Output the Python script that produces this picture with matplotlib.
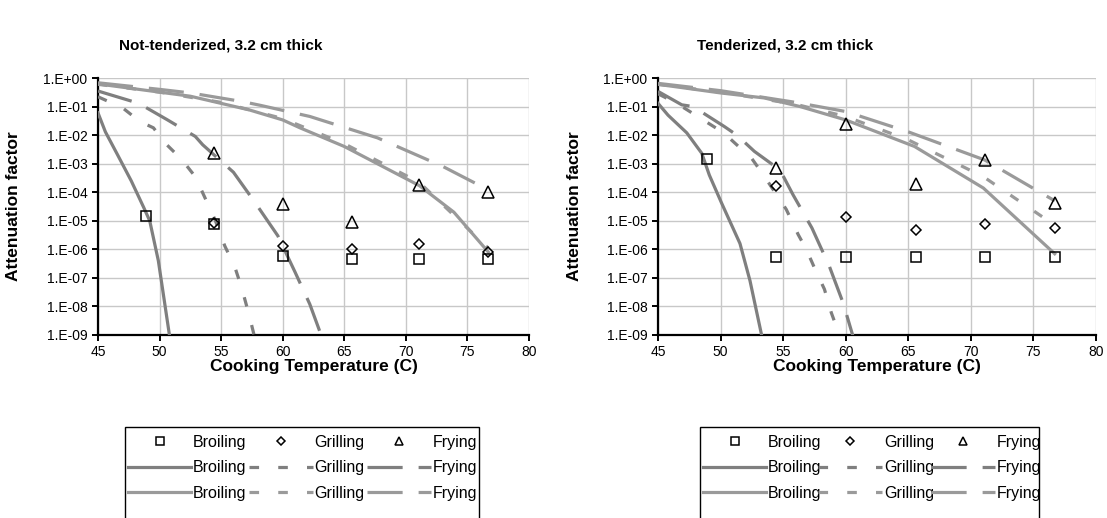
import numpy as np
import matplotlib
matplotlib.use('Agg')
import matplotlib.pyplot as plt
from matplotlib.patches import Rectangle

plt.rcParams['font.family'] = ['Liberation Sans', 'DejaVu Sans']

# temperatures of the measured points (120..170 F)
obs_t = [48.9, 54.4, 60.0, 65.6, 71.1, 76.7]

# ---- Not-tenderized, measured ----
nt_broil_obs = [1.5e-5, 8e-6, 6e-7, 4.7e-7, 4.7e-7, 4.7e-7]
nt_grill_obs = [np.nan, 8.5e-6, 1.3e-6, 1.0e-6, 1.5e-6, 8.3e-7]
nt_fry_obs = [np.nan, 2.3e-3, 3.8e-5, 9.3e-6, 1.8e-4, 1.05e-4]

# ---- Not-tenderized, model curves ----
nt_broil_dark_t = [45, 45.6, 46.6, 47.7, 48.7, 49.2, 49.9, 50.8, 51.0]
nt_broil_dark_v = [6e-2, 1.3e-2, 2e-3, 2.5e-4, 3e-5, 1e-5, 4e-7, 1e-9, 2e-10]
nt_grill_dark_t = [45, 47, 48.4, 49.5, 50.5, 51.8, 52.9, 54.5, 55.3, 56.1, 56.7, 57.3, 57.8]
nt_grill_dark_v = [0.22, 0.09, 3e-2, 1.8e-2, 5e-3, 1.4e-3, 3.5e-4, 1.1e-5, 1.3e-6, 2.5e-7, 4e-8, 4.5e-9, 6e-10]
nt_fry_dark_t = [45, 48.3, 50.6, 52.9, 53.5, 56.0, 57.7, 59.6, 61.0, 62.2, 63.2]
nt_fry_dark_v = [0.35, 0.13, 3.5e-2, 9e-3, 4.6e-3, 5e-4, 4.7e-5, 3e-6, 1.6e-7, 1.2e-8, 8e-10]

nt_broil_light_t = [45, 50, 52.5, 57.3, 60, 61.4, 65, 71.1, 73.9, 76.7]
nt_broil_light_v = [0.62, 0.32, 0.23, 7.6e-2, 3.4e-2, 1.8e-2, 4e-3, 1.7e-4, 2e-5, 8e-7]
nt_grill_light_t = [45, 50, 55, 60, 65, 71.1, 76.7]
nt_grill_light_v = [0.6, 0.32, 0.14, 3.8e-2, 5e-3, 2.2e-4, 1.1e-6]
nt_fry_light_t = [45, 50, 52.5, 56.7, 58.2, 62.2, 67.7, 73, 76.7]
nt_fry_light_v = [0.68, 0.4, 0.3, 0.15, 0.11, 4.5e-2, 8e-3, 8e-4, 1.2e-4]

# ---- Tenderized, measured ----
t_broil_obs = [1.4e-3, 5.2e-7, 5.2e-7, 5.2e-7, 5.2e-7, 5.2e-7]
t_grill_obs = [np.nan, 1.6e-4, 1.4e-5, 4.8e-6, 8e-6, 5.5e-6]
t_fry_obs = [np.nan, 7.2e-4, 2.5e-2, 1.95e-4, 1.3e-3, 4.3e-5]

# ---- Tenderized, model curves ----
t_broil_dark_t = [45, 45.8, 47.3, 48.5, 49.1, 50.1, 51.55, 52.35, 53.3, 53.6]
t_broil_dark_v = [0.13, 5e-2, 1.2e-2, 2.3e-3, 4e-4, 4e-5, 1.6e-6, 8e-8, 9e-10, 3e-10]
t_grill_dark_t = [45, 46.5, 48, 50.25, 52.5, 53.5, 55.25, 56.2, 56.85, 57.6, 58.3, 58.85, 59.5, 59.7]
t_grill_dark_v = [0.28, 0.13, 5e-2, 1.2e-2, 1.5e-3, 3.6e-4, 2.5e-5, 3.3e-6, 1e-6, 1.8e-7, 4e-8, 6e-9, 1e-9, 5e-10]
t_fry_dark_t = [45, 46.9, 47.8, 50.3, 51.3, 52.7, 54.75, 55.8, 57.3, 58.7, 59.8, 60.7]
t_fry_dark_v = [0.34, 0.115, 0.1, 2e-2, 1e-2, 2.7e-3, 6e-4, 8e-5, 5.6e-6, 2.5e-7, 1.3e-8, 6e-10]

t_broil_light_t = [45, 50, 53.5, 56.35, 60, 65.5, 71, 76.7]
t_broil_light_v = [0.6, 0.3, 0.2, 0.1, 3.4e-2, 4e-3, 1.4e-4, 7e-7]
t_grill_light_t = [45, 50, 56, 60, 65, 71, 76.7]
t_grill_light_v = [0.6, 0.32, 0.12, 4.5e-2, 6.8e-3, 3.5e-4, 7e-6]
t_fry_light_t = [45, 50, 56, 60, 65, 71.1, 76.7]
t_fry_light_v = [0.65, 0.36, 0.14, 6.7e-2, 1.3e-2, 1.35e-3, 5e-5]

methods = ['Broiling', 'Grilling', 'Frying']
x_ticks = [45, 50, 55, 60, 65, 70, 75, 80]
y_exps = list(range(-9, 1))

DARK = '#7f7f7f'
LIGHT = '#9a9a9a'
LW = 2.3
SHORT = (3, 6)
LONG = (11, 5)

W, H = 1107, 518


def draw_panel(ax, obs, dark, light):
    # measured points
    hs = []
    for vals, m, ms in zip(obs, ['s', 'D', '^'], [7, 5.5, 8.5]):
        h, = ax.plot(obs_t, vals, ls='none', marker=m, ms=ms, mfc='none',
                     mec='black', mew=1.1, zorder=4)
        hs.append(h)
    dark_h = []
    light_h = []
    for (t, v), dash in zip(dark, [None, SHORT, LONG]):
        h, = ax.plot(t, v, color=DARK, lw=LW, zorder=3)
        if dash:
            h.set_dashes(dash)
        dark_h.append(h)
    for (t, v), dash in zip(light, [None, SHORT, LONG]):
        h, = ax.plot(t, v, color=LIGHT, lw=LW, zorder=3)
        if dash:
            h.set_dashes(dash)
        light_h.append(h)

    ax.set_yscale('log')
    ax.set_xlim(45, 80)
    ax.set_ylim(1e-9, 1)
    ax.set_xticks(x_ticks)
    ax.set_yticks([10.0 ** e for e in y_exps])
    ax.set_yticklabels(['1.E%+03d' % e for e in y_exps])
    ax.yaxis.set_minor_locator(matplotlib.ticker.NullLocator())
    ax.grid(True, color='#c8c8c8', lw=1.0)
    ax.set_axisbelow(True)
    for s in ['top', 'right']:
        ax.spines[s].set_visible(False)
    for s in ['left', 'bottom']:
        ax.spines[s].set_linewidth(1.6)
    ax.tick_params(direction='out', length=4, width=1.4, labelsize=10)
    ax.set_xlabel('Cooking Temperature (C)', fontsize=12.5, fontweight='bold')
    ax.set_ylabel('Attenuation factor', fontsize=12.5, fontweight='bold')

    # legend order: columns are filled top to bottom
    handles = []
    labels = []
    for i in range(3):
        handles += [hs[i], dark_h[i], light_h[i]]
        labels += [methods[i]] * 3
    return handles, labels


fig = plt.figure(figsize=(W / 100, H / 100), dpi=100)
ax1 = fig.add_axes([98 / W, 1 - 335 / H, 431 / W, 257 / H])
ax2 = fig.add_axes([658 / W, 1 - 335 / H, 438 / W, 257 / H])

h1, l1 = draw_panel(
    ax1,
    [nt_broil_obs, nt_grill_obs, nt_fry_obs],
    [(nt_broil_dark_t, nt_broil_dark_v), (nt_grill_dark_t, nt_grill_dark_v), (nt_fry_dark_t, nt_fry_dark_v)],
    [(nt_broil_light_t, nt_broil_light_v), (nt_grill_light_t, nt_grill_light_v), (nt_fry_light_t, nt_fry_light_v)])
h2, l2 = draw_panel(
    ax2,
    [t_broil_obs, t_grill_obs, t_fry_obs],
    [(t_broil_dark_t, t_broil_dark_v), (t_grill_dark_t, t_grill_dark_v), (t_fry_dark_t, t_fry_dark_v)],
    [(t_broil_light_t, t_broil_light_v), (t_grill_light_t, t_grill_light_v), (t_fry_light_t, t_fry_light_v)])

ax1.yaxis.set_label_coords(-0.178, 0.5)
ax2.yaxis.set_label_coords(-0.173, 0.5)
ax1.xaxis.set_label_coords(0.5, -0.095)
ax2.xaxis.set_label_coords(0.5, -0.095)

fig.text(221 / W, 1 - 45 / H, 'Not-tenderized, 3.2 cm thick', ha='center', va='center',
         fontsize=11, fontweight='bold')
fig.text(785 / W, 1 - 45 / H, 'Tenderized, 3.2 cm thick', ha='center', va='center',
         fontsize=11, fontweight='bold')

# legends, boxes run off the bottom like in the original
for hs, ls, x0, x1, colsp in [(h1, l1, 125, 479, 0.15), (h2, l2, 700, 1039, -0.2)]:
    fig.add_artist(Rectangle((x0 / W, -0.05), (x1 - x0) / W, 1 - 427 / H + 0.05,
                             transform=fig.transFigure, fill=False, ec='black', lw=1.0))
    fig.legend(hs, ls, ncol=3, loc='upper left', bbox_to_anchor=((x0 + 1) / W, 1 - 433 / H),
               frameon=False, fontsize=11.5, handlelength=4.0, handletextpad=0.1,
               columnspacing=colsp, borderpad=0.1, labelspacing=0.66, borderaxespad=0,
               markerscale=0.75)

fig.savefig('out.png', dpi=100)
